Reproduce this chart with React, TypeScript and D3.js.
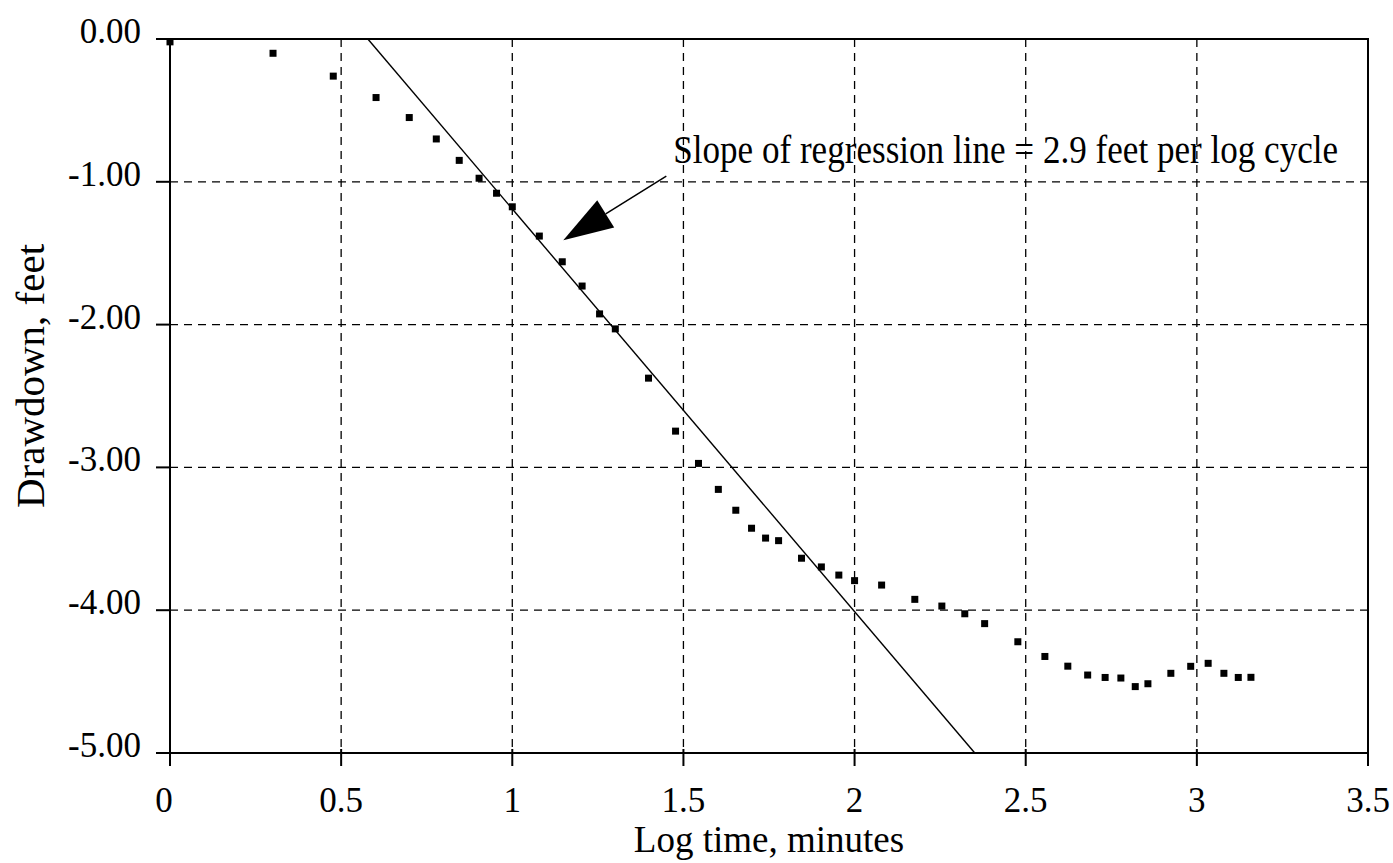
import React from "react";
import * as d3 from "d3";

const logTime = [0, 0.301, 0.477, 0.602, 0.699, 0.778, 0.845, 0.903, 0.954, 1.0, 1.079, 1.146, 1.204, 1.255, 1.301, 1.398, 1.477, 1.544, 1.602, 1.653, 1.699, 1.74, 1.778, 1.845, 1.903, 1.954, 2.0, 2.079, 2.176, 2.255, 2.322, 2.38, 2.477, 2.556, 2.623, 2.681, 2.732, 2.778, 2.82, 2.857, 2.924, 2.982, 3.033, 3.079, 3.121, 3.158];
const drawdown = [-0.02, -0.1, -0.26, -0.41, -0.55, -0.7, -0.85, -0.975, -1.08, -1.175, -1.38, -1.56, -1.73, -1.925, -2.03, -2.375, -2.746, -2.972, -3.154, -3.3, -3.426, -3.495, -3.513, -3.636, -3.697, -3.754, -3.793, -3.824, -3.924, -3.971, -4.025, -4.094, -4.221, -4.324, -4.392, -4.454, -4.471, -4.475, -4.535, -4.515, -4.442, -4.393, -4.372, -4.442, -4.471, -4.47];

const xTicks = [0, 0.5, 1, 1.5, 2, 2.5, 3, 3.5];
const yTicks = [0, -1, -2, -3, -4, -5];

const regressionX = [0.578, 2.35];
const regressionSlope = -2.82;
const regressionX0 = 0.578;

const annotationText = "Slope of regression line = 2.9 feet per log cycle";
const annotationPos = [1.47, -0.87];
const arrowTail = [1.45, -0.96];
const arrowTip = [1.149, -1.41];

const xTitle = "Log time, minutes";
const yTitle = "Drawdown, feet";

const W = 1393, H = 863;
const left = 170, right = 1368, top = 39, bottom = 753;
const font = "'Liberation Serif', 'Times New Roman', serif";

export default function App() {
  const x = d3.scaleLinear().domain([0, 3.5]).range([left, right]);
  const y = d3.scaleLinear().domain([-5, 0]).range([bottom, top]);
  const fmt = (v: number) => d3.format(".2f")(v).replace("\u2212", "-");
  const fmtX = (v: number) => String(v);

  const regLine = d3.line<number>()
    .x((d) => x(d))
    .y((d) => y(regressionSlope * (d - regressionX0)));

  // arrowhead
  const tx = x(arrowTip[0]), ty = y(arrowTip[1]);
  const sx = x(arrowTail[0]), sy = y(arrowTail[1]);
  const ang = Math.atan2(ty - sy, tx - sx);
  const headLen = 50, headHalf = 16;
  const bx = tx - headLen * Math.cos(ang), by = ty - headLen * Math.sin(ang);
  const p1 = [bx + headHalf * Math.sin(ang), by - headHalf * Math.cos(ang)];
  const p2 = [bx - headHalf * Math.sin(ang), by + headHalf * Math.cos(ang)];

  const ax = x(annotationPos[0]), ay = y(annotationPos[1]);

  return (
    <svg width={W} height={H} style={{ position: "absolute", left: 0, top: 0, background: "#fff" }}>
      <rect x={0} y={0} width={W} height={H} fill="#fff" />
      {/* grid */}
      {xTicks.filter((t) => t > 0 && t < 3.5).map((t) => (
        <line key={"gx" + t} x1={x(t)} x2={x(t)} y1={top} y2={bottom} stroke="#000" strokeWidth={1.3} strokeDasharray="8,6" />
      ))}
      {yTicks.filter((t) => t < 0 && t > -5).map((t) => (
        <line key={"gy" + t} x1={left} x2={right} y1={y(t)} y2={y(t)} stroke="#000" strokeWidth={1.3} strokeDasharray="8,6" />
      ))}
      {/* frame */}
      <rect x={left} y={top} width={right - left} height={bottom - top} fill="none" stroke="#000" strokeWidth={2} />
      {/* ticks */}
      {xTicks.map((t) => (
        <line key={"tx" + t} x1={x(t)} x2={x(t)} y1={bottom - 4} y2={bottom + 13} stroke="#000" strokeWidth={2} />
      ))}
      {yTicks.map((t) => (
        <line key={"ty" + t} x1={left - 14} x2={left} y1={y(t)} y2={y(t)} stroke="#000" strokeWidth={2} />
      ))}
      {/* tick labels */}
      {yTicks.map((t) => (
        <text key={"ly" + t} x={141} y={y(t) - 4} fontFamily={font} fontSize={35} textAnchor="end" dominantBaseline="middle">{fmt(t)}</text>
      ))}
      {xTicks.map((t) => (
        <text key={"lx" + t} x={x(t) - (t === 0 ? 6 : 0)} y={812} fontFamily={font} fontSize={35} textAnchor="middle">{fmtX(t)}</text>
      ))}
      {/* titles */}
      <text x={(left + right) / 2} y={852} fontFamily={font} fontSize={37} textAnchor="middle">{xTitle}</text>
      <text transform={`translate(44, 376) rotate(-90)`} fontFamily={font} fontSize={41} textAnchor="middle">{yTitle}</text>
      {/* regression line */}
      <path d={regLine(regressionX) || ""} fill="none" stroke="#000" strokeWidth={1.4} />
      {/* points */}
      {logTime.map((t, i) => (
        <rect key={"p" + i} x={x(t) - 3.5} y={y(drawdown[i]) - 3.5} width={7} height={7} fill="#000" />
      ))}
      {/* annotation */}
      <text transform={`translate(${ax}, ${ay}) scale(1, 1.12)`} fontFamily={font} fontSize={36} textLength={665} lengthAdjust="spacingAndGlyphs">{annotationText}</text>
      <line x1={sx} y1={sy} x2={bx} y2={by} stroke="#000" strokeWidth={1.5} />
      <polygon points={`${tx},${ty} ${p1[0]},${p1[1]} ${p2[0]},${p2[1]}`} fill="#000" />
    </svg>
  );
}
